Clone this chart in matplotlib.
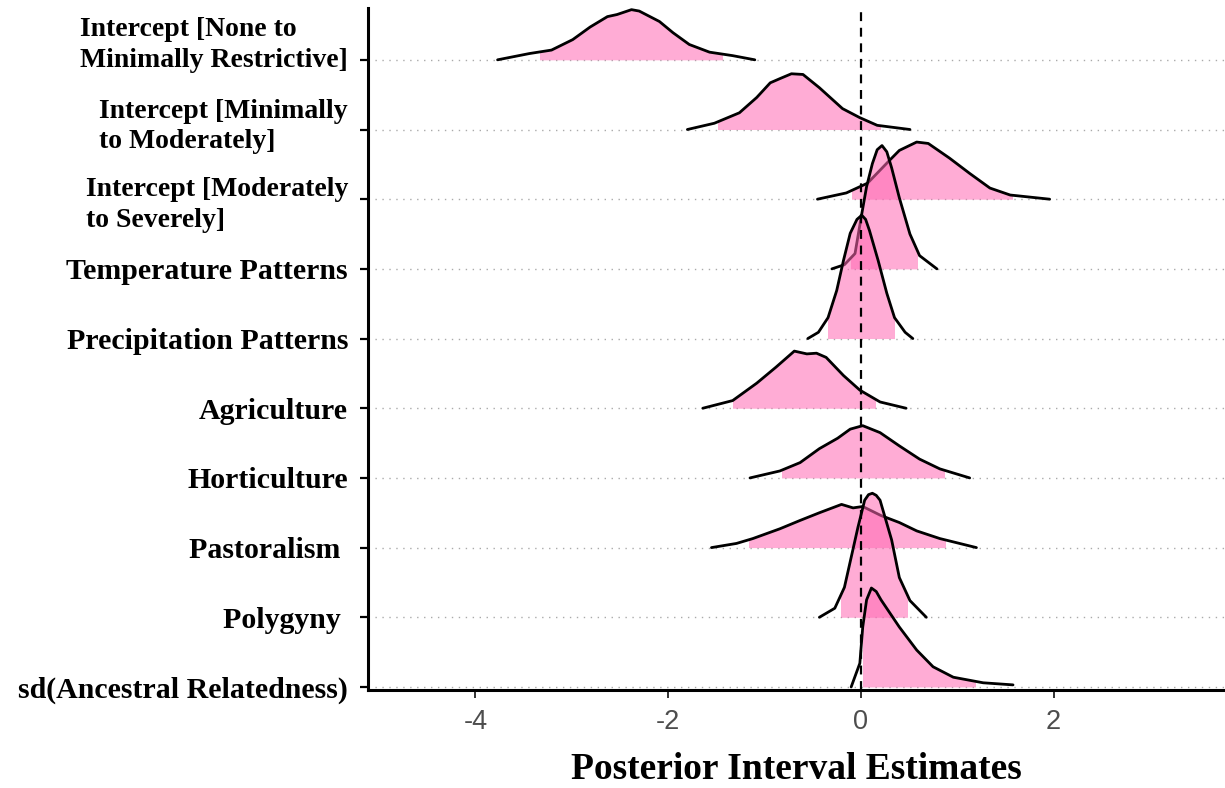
import numpy as np
import matplotlib.pyplot as plt
from matplotlib.patches import Rectangle
from matplotlib.transforms import ScaledTranslation

# parameter names, top to bottom
params = [
    'Intercept [None to\nMinimally Restrictive]',
    'Intercept [Minimally\nto Moderately]',
    'Intercept [Moderately\nto Severely]',
    'Temperature Patterns',
    'Precipitation Patterns',
    'Agriculture',
    'Horticulture',
    'Pastoralism ',
    'Polygyny ',
    'sd(Ancestral Relatedness)',
]

# posterior density outlines: x = estimate, h = scaled density (row height units)
x_none_min = [-3.77, -3.44, -3.21, -2.99, -2.81, -2.63, -2.53, -2.38, -2.30, -2.09, -1.95, -1.78, -1.57, -1.33, -1.10]
h_none_min = [0.00, 0.09, 0.14, 0.29, 0.47, 0.62, 0.65, 0.72, 0.70, 0.55, 0.39, 0.22, 0.11, 0.06, 0.00]

x_min_mod = [-1.80, -1.52, -1.26, -1.08, -0.94, -0.84, -0.72, -0.60, -0.43, -0.19, -0.01, 0.17, 0.51]
h_min_mod = [0.00, 0.09, 0.24, 0.46, 0.67, 0.73, 0.80, 0.79, 0.60, 0.30, 0.17, 0.06, 0.00]

x_mod_sev = [-0.45, -0.15, 0.07, 0.30, 0.40, 0.58, 0.70, 0.92, 1.13, 1.34, 1.55, 1.96]
h_mod_sev = [0.00, 0.09, 0.23, 0.56, 0.70, 0.82, 0.80, 0.59, 0.37, 0.16, 0.06, 0.00]

x_temp = [-0.30, -0.17, -0.06, 0.01, 0.06, 0.12, 0.17, 0.22, 0.27, 0.32, 0.40, 0.51, 0.61, 0.79]
h_temp = [0.00, 0.06, 0.22, 0.79, 1.18, 1.51, 1.71, 1.77, 1.68, 1.45, 1.02, 0.50, 0.19, 0.00]

x_precip = [-0.55, -0.44, -0.34, -0.25, -0.18, -0.11, -0.04, 0.01, 0.05, 0.09, 0.18, 0.27, 0.35, 0.46, 0.54]
h_precip = [0.00, 0.09, 0.30, 0.69, 1.12, 1.51, 1.71, 1.77, 1.71, 1.55, 1.12, 0.65, 0.30, 0.09, 0.00]

x_agri = [-1.64, -1.33, -1.08, -0.88, -0.69, -0.56, -0.46, -0.36, -0.18, -0.01, 0.20, 0.47]
h_agri = [0.00, 0.11, 0.36, 0.59, 0.82, 0.78, 0.79, 0.73, 0.47, 0.26, 0.09, 0.00]

x_horti = [-1.15, -0.84, -0.63, -0.43, -0.24, -0.11, 0.02, 0.20, 0.40, 0.61, 0.82, 1.13]
h_horti = [0.00, 0.10, 0.22, 0.42, 0.57, 0.70, 0.75, 0.65, 0.46, 0.27, 0.13, 0.00]

x_pastor = [-1.55, -1.29, -1.12, -0.84, -0.63, -0.43, -0.20, -0.08, 0.02, 0.21, 0.40, 0.58, 0.82, 1.20]
h_pastor = [0.00, 0.06, 0.13, 0.27, 0.39, 0.50, 0.62, 0.57, 0.59, 0.46, 0.36, 0.24, 0.13, 0.00]

x_polyg = [-0.43, -0.27, -0.17, -0.10, -0.03, 0.04, 0.08, 0.12, 0.16, 0.20, 0.32, 0.40, 0.51, 0.68]
h_polyg = [0.00, 0.13, 0.43, 0.86, 1.29, 1.68, 1.76, 1.78, 1.75, 1.68, 1.11, 0.57, 0.24, 0.00]

x_sd_anc = [-0.10, -0.01, 0.02, 0.06, 0.11, 0.16, 0.21, 0.40, 0.58, 0.75, 0.96, 1.27, 1.58]
h_sd_anc = [0.00, 0.34, 0.86, 1.25, 1.42, 1.37, 1.25, 0.86, 0.53, 0.29, 0.14, 0.06, 0.03]

# shaded credible interval bounds
interval_lo = [-3.33, -1.48, -0.09, -0.10, -0.34, -1.33, -0.82, -1.16, -0.21, 0.02]
interval_hi = [-1.44, 0.20, 1.57, 0.58, 0.34, 0.15, 0.86, 0.87, 0.48, 1.19]

xs = [x_none_min, x_min_mod, x_mod_sev, x_temp, x_precip, x_agri, x_horti, x_pastor, x_polyg, x_sd_anc]
hs = [h_none_min, h_min_mod, h_mod_sev, h_temp, h_precip, h_agri, h_horti, h_pastor, h_polyg, h_sd_anc]

n = len(params)
ys = np.arange(n)[::-1]

fig = plt.figure(figsize=(12.25, 7.88), dpi=100)
ax = fig.add_axes([0.300, 0.1244, 0.700, 0.866])

for k in range(n):
    base = ys[k]
    x = np.array(xs[k])
    top = base + np.array(hs[k])
    fill = ax.fill_between(x, base, top, color='#ff69b4', alpha=0.55,
                           linewidth=0, zorder=2 + 2 * k)
    clip = Rectangle((interval_lo[k], base), interval_hi[k] - interval_lo[k], 5,
                     transform=ax.transData, visible=False)
    ax.add_patch(clip)
    fill.set_clip_path(clip)
    ax.plot(x, top, color='black', linewidth=2.0, zorder=3 + 2 * k,
            solid_capstyle='round', solid_joinstyle='round')

ax.axvline(0, color='black', linestyle=(0, (4, 3)), linewidth=1.6, zorder=50)

ax.set_xlim(-5.12, 3.78)
ax.set_ylim(-0.043, 9.75)
ax.set_xticks([-4, -2, 0, 2])
ax.set_xticklabels(['-4', '-2', '0', '2'])
ax.set_yticks(ys)
ax.set_yticklabels(params)

ax.yaxis.grid(True, linestyle=(0, (1, 4)), color='#AAAAAA', linewidth=1.0)
ax.set_axisbelow(True)

for side in ['top', 'right']:
    ax.spines[side].set_visible(False)
for side in ['left', 'bottom']:
    ax.spines[side].set_linewidth(2.2)

ax.tick_params(axis='y', length=6, width=1.6, pad=8)
ax.tick_params(axis='x', length=6, width=1.4, color='#333333', pad=8,
               labelsize=19.5, labelcolor='#4D4D4D')
for lbl in ax.get_xticklabels():
    lbl.set_family('Liberation Sans')

shift_up = {0: 21, 1: 9}
for i, lbl in enumerate(ax.get_yticklabels()):
    lbl.set_family('Liberation Serif')
    lbl.set_fontweight('bold')
    if '\n' in lbl.get_text():
        lbl.set_fontsize(20)
        lbl.set_multialignment('left')
        lbl.set_linespacing(1.3)
    else:
        lbl.set_fontsize(21.5)
    if i in shift_up:
        lbl.set_transform(lbl.get_transform() +
                          ScaledTranslation(0, shift_up[i] / 100, fig.dpi_scale_trans))

ax.set_xlabel('Posterior Interval Estimates', fontsize=27, fontweight='bold',
              family='Liberation Serif', labelpad=12)

fig.savefig('out.png', dpi=100)
